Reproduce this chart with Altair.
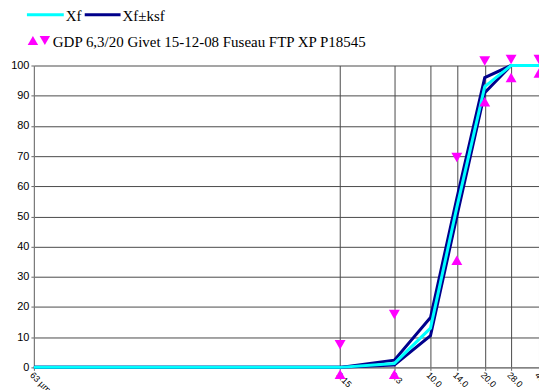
import altair as alt
import pandas as pd

# ---- data ----
sizes = [0.063, 3.15, 6.3, 10.0, 14.0, 20.0, 28.0, 40.0]
tick_labels = ["63 µm", "3.15", "6.3", "10.0", "14.0", "20.0", "28.0", "40.0"]
xf = [0, 0, 1.3, 13, 53, 93, 100, 100]
xf_upper = [0, 0, 2.4, 16.5, 56, 96, 100, 100]
xf_lower = [0, 0, 0.8, 10.5, 50, 91, 100, 100]
spec_sizes = [3.15, 6.3, 14.0, 20.0, 28.0, 40.0]
spec_max = [7.5, 17.5, 69.5, 101.5, 102, 102]
spec_min = [-2.3, -2.3, 35.5, 88, 96, 97.5]

legend_xf = "Xf"
legend_ksf = "Xf±ksf"
legend_spec = "GDP 6,3/20 Givet 15-12-08 Fuseau FTP XP P18545"

# ---- tables ----
df_xf = pd.DataFrame({"size": sizes, "value": xf})
df_band = pd.concat([
    pd.DataFrame({"size": sizes, "value": xf_upper, "s": "upper"}),
    pd.DataFrame({"size": sizes, "value": xf_lower, "s": "lower"}),
])
df_max = pd.DataFrame({"size": spec_sizes, "value": spec_max})
df_min = pd.DataFrame({"size": spec_sizes, "value": spec_min})

# label expression from tick list
expr = "''"
for v, lab in reversed(list(zip(sizes, tick_labels))):
    expr = f"abs(datum.value - {v}) < 1e-6 ? '{lab}' : ({expr})"

FONT = "Liberation Sans"
GRID = "#4a4a4a"

x_enc = alt.X(
    "size:Q",
    scale=alt.Scale(type="log", domain=[0.063, 40], nice=False),
    axis=alt.Axis(
        values=sizes, labelExpr=expr, labelAngle=45, labelAlign="left",
        labelBaseline="top", grid=True, gridColor=GRID, gridOpacity=1,
        title=None, tickSize=3, tickColor="#666666", labelFont=FONT,
        labelFontSize=9, labelColor="#000000", domainColor="#808080",
        labelPadding=0, labelOverlap=False,
    ),
)
y_enc = alt.Y(
    "value:Q",
    scale=alt.Scale(domain=[0, 100], nice=False, clamp=False),
    axis=alt.Axis(
        values=list(range(0, 101, 10)), title=None, grid=True, gridColor=GRID,
        gridOpacity=1, tickSize=3, tickColor="#666666", labelFont=FONT,
        labelFontSize=11, labelColor="#000000", domainColor="#808080",
        labelPadding=2,
    ),
)

band = alt.Chart(df_band).mark_line(color="#00008B", strokeWidth=3, clip=False).encode(
    x=x_enc, y=y_enc, detail="s:N"
)
line = alt.Chart(df_xf).mark_line(color="#00FFFF", strokeWidth=3, clip=False).encode(
    x=x_enc, y=y_enc
)
tmax = alt.Chart(df_max).mark_point(
    shape="triangle-down", filled=True, color="#FF00FF", size=120, opacity=1
).encode(x=x_enc, y=y_enc)
tmin = alt.Chart(df_min).mark_point(
    shape="triangle-up", filled=True, color="#FF00FF", size=120, opacity=1
).encode(x=x_enc, y=y_enc)

one = alt.Data(values=[{"a": 1}])
SERIF = "Liberation Serif"
leg = [
    alt.Chart(one).mark_rule(color="#00FFFF", strokeWidth=3).encode(
        x=alt.value(-7), x2=alt.value(30), y=alt.value(-51)),
    alt.Chart(one).mark_text(text=legend_xf, font=SERIF, fontSize=15, align="left",
                             baseline="middle", color="#000000").encode(
        x=alt.value(32), y=alt.value(-50)),
    alt.Chart(one).mark_rule(color="#00008B", strokeWidth=3).encode(
        x=alt.value(51), x2=alt.value(87), y=alt.value(-51)),
    alt.Chart(one).mark_text(text=legend_ksf, font=SERIF, fontSize=15, align="left",
                             baseline="middle", color="#000000").encode(
        x=alt.value(89), y=alt.value(-50)),
    alt.Chart(one).mark_point(shape="triangle-up", filled=True, color="#FF00FF",
                              size=110, opacity=1).encode(
        x=alt.value(-1), y=alt.value(-25)),
    alt.Chart(one).mark_point(shape="triangle-down", filled=True, color="#FF00FF",
                              size=110, opacity=1).encode(
        x=alt.value(11), y=alt.value(-25)),
    alt.Chart(one).mark_text(text=legend_spec, font=SERIF, fontSize=15, align="left",
                             baseline="middle", color="#000000").encode(
        x=alt.value(19), y=alt.value(-24)),
]

chart = alt.layer(band, line, tmax, tmin, *leg).properties(
    width=507, height=303,
    autosize=alt.AutoSizeParams(type="none"),
    padding={"left": 26, "top": 57, "right": 0, "bottom": 22},
    background="#ffffff",
).configure_view(stroke=None)

chart.save("out.html", embed_options={"renderer": "svg", "actions": False})
